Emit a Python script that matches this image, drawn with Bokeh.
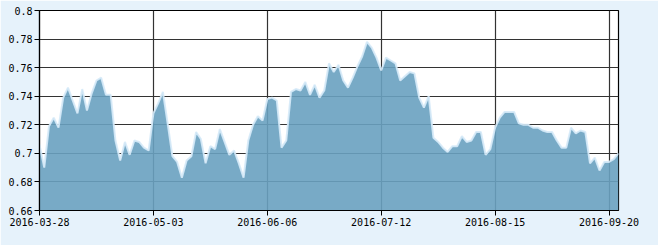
from bokeh.plotting import figure
from bokeh.models import FixedTicker, Range1d, ColumnDataSource
from bokeh.embed import file_html
from bokeh.resources import INLINE

values = [
    0.706, 0.690, 0.719, 0.725, 0.718, 0.739, 0.746, 0.737, 0.728, 0.745,
    0.730, 0.742, 0.751, 0.753, 0.741, 0.741, 0.709, 0.695, 0.708, 0.699,
    0.709, 0.708, 0.704, 0.702, 0.728, 0.735, 0.743, 0.721, 0.698, 0.694,
    0.683, 0.695, 0.698, 0.715, 0.710, 0.693, 0.705, 0.703, 0.717, 0.708,
    0.699, 0.702, 0.693, 0.683, 0.709, 0.720, 0.726, 0.723, 0.738, 0.739,
    0.737, 0.704, 0.709, 0.743, 0.745, 0.744, 0.750, 0.741, 0.748, 0.739,
    0.744, 0.763, 0.757, 0.762, 0.751, 0.746, 0.753, 0.761, 0.768, 0.778,
    0.774, 0.767, 0.758, 0.767, 0.765, 0.763, 0.751, 0.754, 0.757, 0.756,
    0.739, 0.732, 0.740, 0.711, 0.708, 0.704, 0.701, 0.705, 0.705, 0.712,
    0.708, 0.709, 0.715, 0.715, 0.699, 0.703, 0.718, 0.725, 0.729, 0.729,
    0.729, 0.721, 0.720, 0.720, 0.718, 0.718, 0.716, 0.715, 0.715, 0.709,
    0.704, 0.704, 0.718, 0.714, 0.716, 0.715, 0.693, 0.697, 0.688, 0.694,
    0.694, 0.696, 0.700,
]
x_tick_positions = [0, 24, 48, 72, 96, 120]
x_tick_labels = ["2016-03-28", "2016-05-03", "2016-06-06", "2016-07-12", "2016-08-15", "2016-09-20"]
y_tick_values = [0.66, 0.68, 0.70, 0.72, 0.74, 0.76, 0.78, 0.80]
y_tick_labels = ["0.66", "0.68", "0.7", "0.72", "0.74", "0.76", "0.78", "0.8"]

idx = list(range(len(values)))
base = [y_tick_values[0]] * len(values)
src = ColumnDataSource(dict(x=idx, y=values, b=base))

p = figure(width=658, height=245, output_backend="svg", toolbar_location=None,
           x_range=Range1d(0, len(values) - 1), y_range=Range1d(y_tick_values[0], y_tick_values[-1]),
           min_border_left=39, min_border_right=40, min_border_top=10, min_border_bottom=35)
p.background_fill_color = "white"
p.border_fill_color = "#e6f2fb"
p.outline_line_color = "black"
p.outline_line_width = 1.2

p.varea(x="x", y1="b", y2="y", source=src, fill_color="#69a1c0", fill_alpha=0.9)
p.line(x="x", y="y", source=src, line_color="#d6eaf8", line_width=2, line_alpha=0.9)

for ax in (p.xaxis[0], p.yaxis[0]):
    ax.axis_line_color = "black"
    ax.axis_line_width = 1.2
    ax.major_tick_line_color = "black"
    ax.major_tick_in = 0
    ax.major_tick_out = 5
    ax.minor_tick_line_color = None
    ax.major_label_text_font = "DejaVu Sans Mono"
    ax.major_label_text_font_size = "10px"
    ax.major_label_text_color = "black"
    ax.major_label_standoff = 2

p.xaxis[0].ticker = FixedTicker(ticks=x_tick_positions)
p.xaxis[0].major_label_overrides = dict(zip(x_tick_positions, x_tick_labels))
p.yaxis[0].ticker = FixedTicker(ticks=y_tick_values)
p.yaxis[0].major_label_overrides = dict(zip(y_tick_values, y_tick_labels))

p.xgrid[0].ticker = FixedTicker(ticks=x_tick_positions)
p.ygrid[0].ticker = FixedTicker(ticks=y_tick_values)
for g in (p.xgrid[0], p.ygrid[0]):
    g.grid_line_color = "#333333"
    g.grid_line_width = 1.2
    g.grid_line_alpha = 1.0

open("out.html", "w").write(file_html(p, INLINE))
